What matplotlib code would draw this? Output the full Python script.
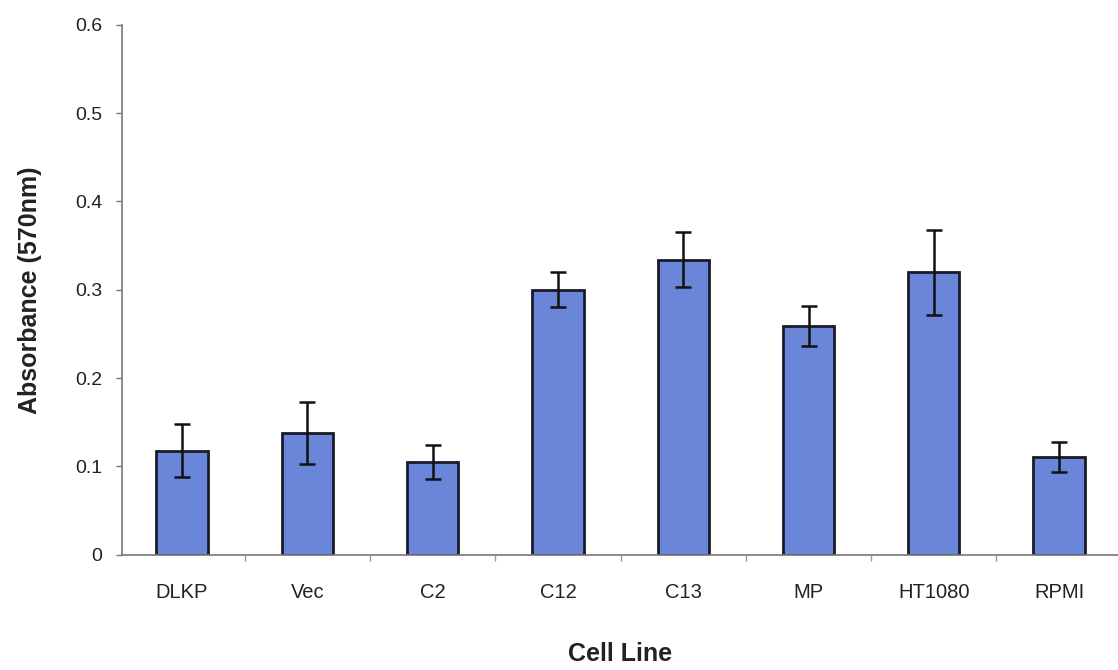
import numpy as np
import matplotlib.pyplot as plt
from matplotlib.ticker import FixedLocator

# data
cell_lines = ["DLKP", "Vec", "C2", "C12", "C13", "MP", "HT1080", "RPMI"]
absorbance = [0.118, 0.138, 0.105, 0.300, 0.334, 0.259, 0.320, 0.111]
errors = [0.030, 0.035, 0.019, 0.020, 0.031, 0.023, 0.048, 0.017]
y_ticks = [0, 0.1, 0.2, 0.3, 0.4, 0.5, 0.6]
y_tick_labels = ["0", "0.1", "0.2", "0.3", "0.4", "0.5", "0.6"]

plt.rcParams['font.family'] = ['Liberation Sans', 'DejaVu Sans']

fig = plt.figure(figsize=(11.18, 6.7), dpi=100)
ax = fig.add_axes([0.109, 0.172, 0.891, 0.791])

x = np.arange(len(cell_lines))
ax.bar(x, absorbance, width=0.41, color='#6a86d8',
       edgecolor='#1a1a2a', linewidth=2.0, zorder=2)
ax.errorbar(x, absorbance, yerr=errors, fmt='none', ecolor='#111111',
            elinewidth=1.8, capsize=6, capthick=1.8, zorder=3)

ax.set_xlim(-0.48, 7.47)
ax.set_ylim(0, 0.6)

# y axis
ax.set_yticks(y_ticks)
ax.set_yticklabels(y_tick_labels, fontsize=14, color='#222222')
ax.tick_params(axis='y', length=4, width=1, color='#777777', pad=10)

# x axis: labels at centres, small ticks between categories
ax.set_xticks(x)
ax.set_xticklabels(cell_lines, fontsize=14.5, color='#222222')
ax.tick_params(axis='x', which='major', length=0, pad=20)
ax.xaxis.set_minor_locator(FixedLocator(np.arange(0.5, len(cell_lines), 1)))
ax.tick_params(axis='x', which='minor', length=4, width=1, color='#999999')

for side in ['top', 'right']:
    ax.spines[side].set_visible(False)
ax.spines['left'].set_color('#777777')
ax.spines['bottom'].set_color('#777777')
ax.spines['left'].set_linewidth(1.2)
ax.spines['bottom'].set_linewidth(1.2)

ax.set_ylabel("Absorbance (570nm)", fontsize=18, fontweight='bold',
              color='#222222', labelpad=24)
ax.set_xlabel("Cell Line", fontsize=18, fontweight='bold',
              color='#222222', labelpad=29)

fig.savefig("out.png", dpi=100)
